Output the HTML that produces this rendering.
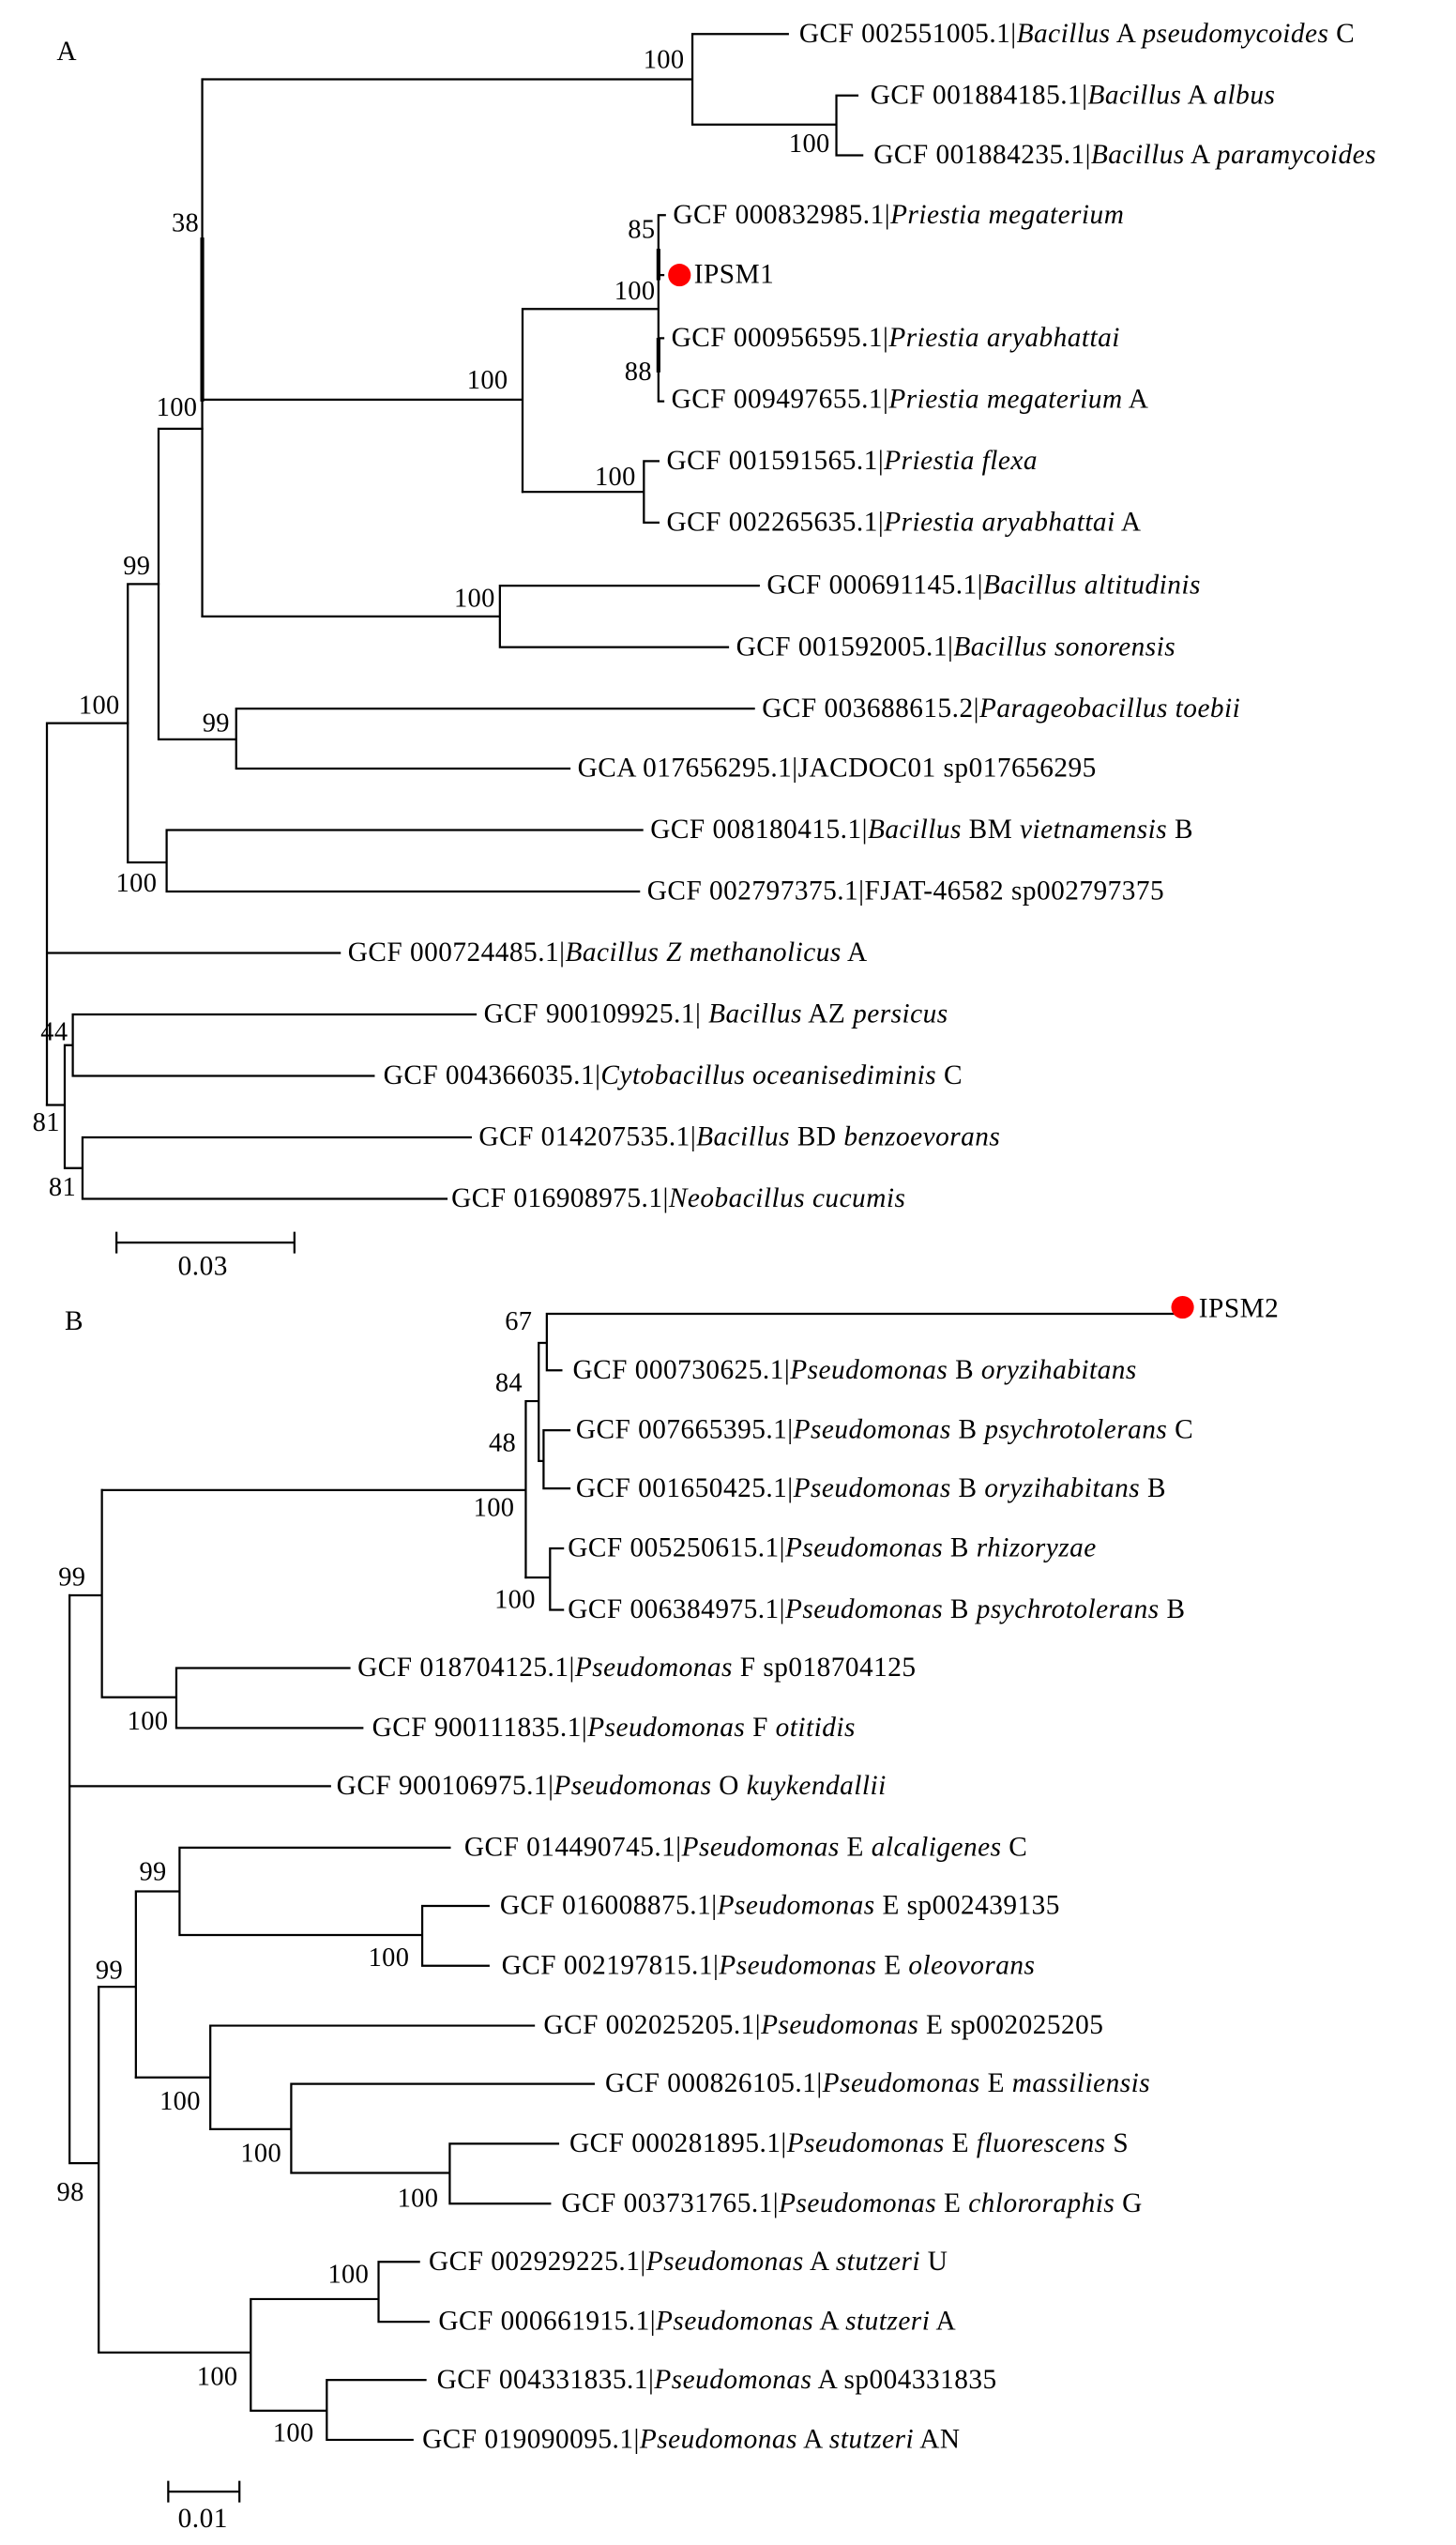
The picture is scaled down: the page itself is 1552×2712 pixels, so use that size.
<!DOCTYPE html>
<html><head><meta charset="utf-8"><style>
html,body{margin:0;padding:0;background:#fff;}
svg{display:block;}
text{font-family:"Liberation Serif",serif;font-size:17px;letter-spacing:0.28px;fill:#000;}
.n{font-size:16.5px;letter-spacing:0.2px;}
</style></head><body>
<svg width="1552" height="2712" viewBox="0 0 900 1573" preserveAspectRatio="none" xmlns="http://www.w3.org/2000/svg">
<g stroke="#000" stroke-width="1.3" fill="none" stroke-linecap="square">
<!-- Tree A -->
<path d="M126 49H428M428 21V77M428 21H487M428 77H517M517 59V96M517 59H530M517 96H533"/>
<path d="M125 49V381"/>
<path d="M125 148V247" stroke-width="2.4"/>
<path d="M125 247H323M323 191V304M323 191H407M407 133V248M407 133H411M407 170H410M407 209H410M407 248H410"/>
<path d="M407 155V172M407 210V229" stroke-width="2.4"/>
<path d="M323 304H398M398 285V323M398 285H407M398 323H407"/>
<path d="M125 381H309M309 362V400M309 362H469M309 400H450"/>
<path d="M98 265H125M98 265V457M98 457H146M146 438V475M146 438H466M146 475H352"/>
<path d="M79 361H98M79 361V533M79 533H103M103 513V551M103 513H397M103 551H395"/>
<path d="M29 447H79M29 447V683M29 589H210"/>
<path d="M29 683H40M40 646V722M40 646H45M45 627V665M45 627H294M45 665H231M40 722H51M51 703V741M51 703H291M51 741H276"/>
<path d="M72 768H182M72 762V774M182 762V774"/>
<!-- Tree B -->
<path d="M63 921H325M325 866V975M325 866H333M333 830V903M333 830H338M338 812V847M338 812H727M338 847H347M333 903H336M336 884V920M336 884H352M336 920H352"/>
<path d="M325 975H340M340 957V995M340 957H348M340 995H348"/>
<path d="M43 986H63M63 921V1049M63 1049H109M109 1031V1068M109 1031H216M109 1068H224"/>
<path d="M43 986V1337M43 1104H204M43 1337H61M61 1228V1454"/>
<path d="M61 1228H84M84 1169V1284M84 1169H111M111 1142V1196M111 1142H278M111 1196H261M261 1178V1215M261 1178H302M261 1215H302"/>
<path d="M84 1284H130M130 1252V1316M130 1252H330M130 1316H180M180 1288V1343M180 1288H367M180 1343H278M278 1325V1362M278 1325H345M278 1362H340"/>
<path d="M61 1454H155M155 1421V1490M155 1421H234M234 1398V1435M234 1398H259M234 1435H265M155 1490H202M202 1471V1508M202 1471H263M202 1508H255"/>
<path d="M104 1540H148M104 1534V1546M148 1534V1546"/>
</g>
<circle cx="420" cy="170" r="7" fill="#f00"/>
<circle cx="731" cy="808" r="7" fill="#f00"/>
<!-- A labels -->
<text x="35" y="37">A</text>
<text x="494" y="26">GCF 002551005.1|<tspan font-style="italic">Bacillus</tspan> A <tspan font-style="italic">pseudomycoides</tspan> C</text>
<text x="538" y="64">GCF 001884185.1|<tspan font-style="italic">Bacillus</tspan> A <tspan font-style="italic">albus</tspan></text>
<text x="540" y="101">GCF 001884235.1|<tspan font-style="italic">Bacillus</tspan> A <tspan font-style="italic">paramycoides</tspan></text>
<text x="416" y="138">GCF 000832985.1|<tspan font-style="italic">Priestia megaterium</tspan></text>
<text x="429" y="175">IPSM1</text>
<text x="415" y="214">GCF 000956595.1|<tspan font-style="italic">Priestia aryabhattai</tspan></text>
<text x="415" y="252">GCF 009497655.1|<tspan font-style="italic">Priestia megaterium</tspan> A</text>
<text x="412" y="290">GCF 001591565.1|<tspan font-style="italic">Priestia flexa</tspan></text>
<text x="412" y="328">GCF 002265635.1|<tspan font-style="italic">Priestia aryabhattai</tspan> A</text>
<text x="474" y="367">GCF 000691145.1|<tspan font-style="italic">Bacillus altitudinis</tspan></text>
<text x="455" y="405">GCF 001592005.1|<tspan font-style="italic">Bacillus sonorensis</tspan></text>
<text x="471" y="443">GCF 003688615.2|<tspan font-style="italic">Parageobacillus toebii</tspan></text>
<text x="357" y="480">GCA 017656295.1|JACDOC01 sp017656295</text>
<text x="402" y="518">GCF 008180415.1|<tspan font-style="italic">Bacillus</tspan> BM <tspan font-style="italic">vietnamensis</tspan> B</text>
<text x="400" y="556">GCF 002797375.1|FJAT-46582 sp002797375</text>
<text x="215" y="594">GCF 000724485.1|<tspan font-style="italic">Bacillus Z methanolicus</tspan> A</text>
<text x="299" y="632">GCF 900109925.1| <tspan font-style="italic">Bacillus</tspan> AZ <tspan font-style="italic">persicus</tspan></text>
<text x="237" y="670">GCF 004366035.1|<tspan font-style="italic">Cytobacillus oceanisediminis</tspan> C</text>
<text x="296" y="708">GCF 014207535.1|<tspan font-style="italic">Bacillus</tspan> BD <tspan font-style="italic">benzoevorans</tspan></text>
<text x="279" y="746">GCF 016908975.1|<tspan font-style="italic">Neobacillus cucumis</tspan></text>
<text x="110" y="788">0.03</text>
<g text-anchor="end">
<text class="n" x="423" y="42">100</text>
<text class="n" x="513" y="94">100</text>
<text class="n" x="123" y="143">38</text>
<text class="n" x="405" y="147">85</text>
<text class="n" x="405" y="185">100</text>
<text class="n" x="403" y="235">88</text>
<text class="n" x="314" y="240">100</text>
<text class="n" x="393" y="300">100</text>
<text class="n" x="306" y="375">100</text>
<text class="n" x="122" y="257">100</text>
<text class="n" x="142" y="452">99</text>
<text class="n" x="93" y="355">99</text>
<text class="n" x="97" y="551">100</text>
<text class="n" x="74" y="441">100</text>
<text class="n" x="42" y="643">44</text>
<text class="n" x="37" y="699">81</text>
<text class="n" x="47" y="739">81</text>
</g>
<!-- B labels -->
<text x="40" y="822">B</text>
<text x="741" y="814">IPSM2</text>
<text x="354" y="852">GCF 000730625.1|<tspan font-style="italic">Pseudomonas</tspan> B <tspan font-style="italic">oryzihabitans</tspan></text>
<text x="356" y="889">GCF 007665395.1|<tspan font-style="italic">Pseudomonas</tspan> B <tspan font-style="italic">psychrotolerans</tspan> C</text>
<text x="356" y="925">GCF 001650425.1|<tspan font-style="italic">Pseudomonas</tspan> B <tspan font-style="italic">oryzihabitans</tspan> B</text>
<text x="351" y="962">GCF 005250615.1|<tspan font-style="italic">Pseudomonas</tspan> B <tspan font-style="italic">rhizoryzae</tspan></text>
<text x="351" y="1000">GCF 006384975.1|<tspan font-style="italic">Pseudomonas</tspan> B <tspan font-style="italic">psychrotolerans</tspan> B</text>
<text x="221" y="1036">GCF 018704125.1|<tspan font-style="italic">Pseudomonas</tspan> F sp018704125</text>
<text x="230" y="1073">GCF 900111835.1|<tspan font-style="italic">Pseudomonas</tspan> F <tspan font-style="italic">otitidis</tspan></text>
<text x="208" y="1109">GCF 900106975.1|<tspan font-style="italic">Pseudomonas</tspan> O <tspan font-style="italic">kuykendallii</tspan></text>
<text x="287" y="1147">GCF 014490745.1|<tspan font-style="italic">Pseudomonas</tspan> E <tspan font-style="italic">alcaligenes</tspan> C</text>
<text x="309" y="1183">GCF 016008875.1|<tspan font-style="italic">Pseudomonas</tspan> E sp002439135</text>
<text x="310" y="1220">GCF 002197815.1|<tspan font-style="italic">Pseudomonas</tspan> E <tspan font-style="italic">oleovorans</tspan></text>
<text x="336" y="1257">GCF 002025205.1|<tspan font-style="italic">Pseudomonas</tspan> E sp002025205</text>
<text x="374" y="1293">GCF 000826105.1|<tspan font-style="italic">Pseudomonas</tspan> E <tspan font-style="italic">massiliensis</tspan></text>
<text x="352" y="1330">GCF 000281895.1|<tspan font-style="italic">Pseudomonas</tspan> E <tspan font-style="italic">fluorescens</tspan> S</text>
<text x="347" y="1367">GCF 003731765.1|<tspan font-style="italic">Pseudomonas</tspan> E <tspan font-style="italic">chlororaphis</tspan> G</text>
<text x="265" y="1403">GCF 002929225.1|<tspan font-style="italic">Pseudomonas</tspan> A <tspan font-style="italic">stutzeri</tspan> U</text>
<text x="271" y="1440">GCF 000661915.1|<tspan font-style="italic">Pseudomonas</tspan> A <tspan font-style="italic">stutzeri</tspan> A</text>
<text x="270" y="1476">GCF 004331835.1|<tspan font-style="italic">Pseudomonas</tspan> A sp004331835</text>
<text x="261" y="1513">GCF 019090095.1|<tspan font-style="italic">Pseudomonas</tspan> A <tspan font-style="italic">stutzeri</tspan> AN</text>
<text x="110" y="1562">0.01</text>
<g text-anchor="end">
<text class="n" x="329" y="822">67</text>
<text class="n" x="323" y="860">84</text>
<text class="n" x="319" y="897">48</text>
<text class="n" x="318" y="937">100</text>
<text class="n" x="331" y="994">100</text>
<text class="n" x="53" y="980">99</text>
<text class="n" x="104" y="1069">100</text>
<text class="n" x="52" y="1360">98</text>
<text class="n" x="76" y="1223">99</text>
<text class="n" x="103" y="1162">99</text>
<text class="n" x="253" y="1215">100</text>
<text class="n" x="124" y="1304">100</text>
<text class="n" x="174" y="1336">100</text>
<text class="n" x="271" y="1364">100</text>
<text class="n" x="147" y="1474">100</text>
<text class="n" x="228" y="1411">100</text>
<text class="n" x="194" y="1509">100</text>
</g>
</svg>
</body></html>
